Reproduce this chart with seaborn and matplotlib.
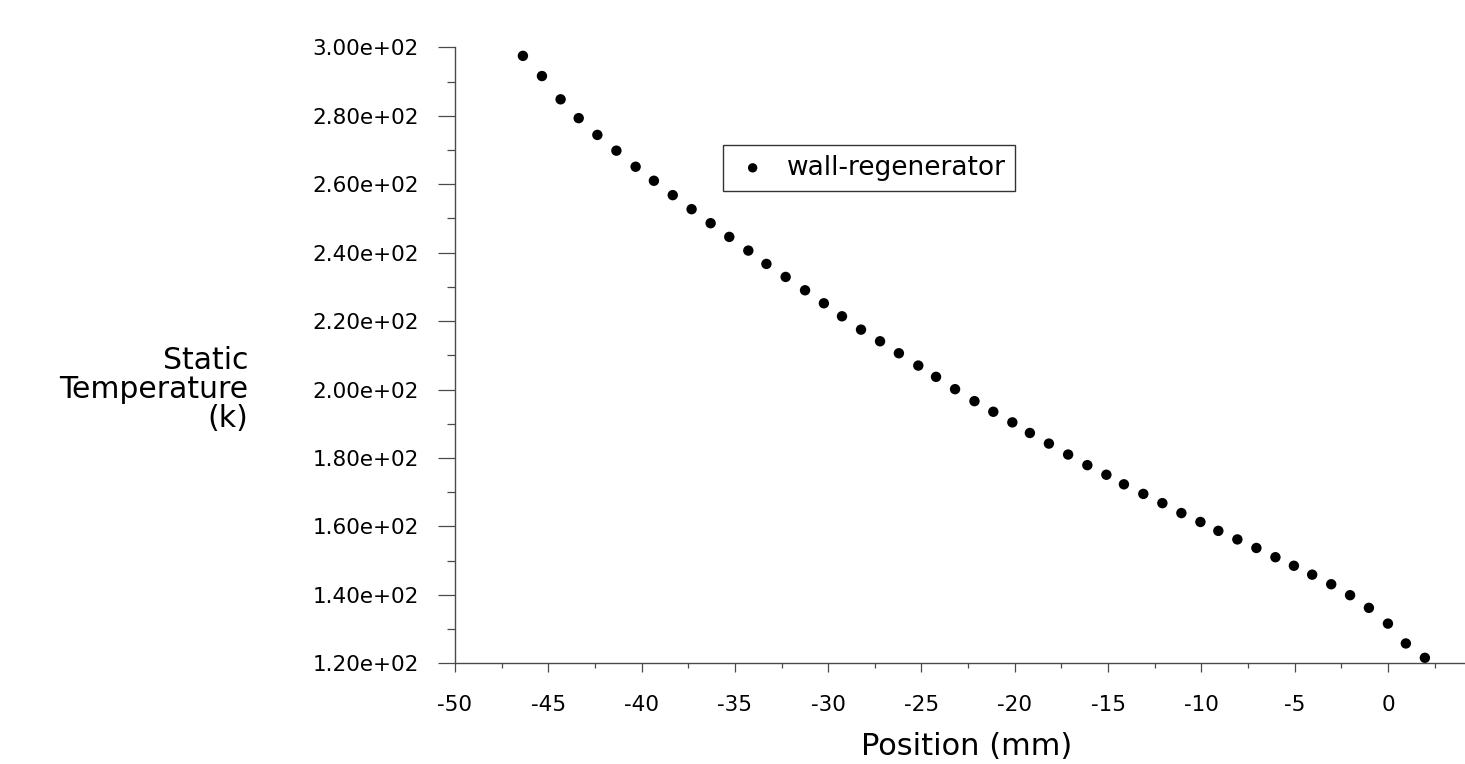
import matplotlib
matplotlib.use("Agg")
import matplotlib.pyplot as plt
import matplotlib.ticker as mticker
import seaborn as sns
import pandas as pd

# Data
position_mm = [-46.36, -45.34, -44.34, -43.37, -42.37, -41.35, -40.32, -39.34, -38.33, -37.32,
               -36.30, -35.30, -34.28, -33.31, -32.28, -31.24, -30.23, -29.26, -28.24, -27.22,
               -26.21, -25.17, -24.22, -23.20, -22.16, -21.15, -20.13, -19.19, -18.17, -17.14,
               -16.11, -15.09, -14.15, -13.11, -12.09, -11.07, -10.05, -9.09, -8.07, -7.05,
               -6.03, -5.04, -4.06, -3.04, -2.03, -1.02, 0.00, 0.96, 1.98]
static_temperature_k = [297.5, 291.6, 284.8, 279.3, 274.4, 269.8, 265.1, 261.0, 256.8, 252.7,
                        248.6, 244.6, 240.6, 236.7, 232.9, 229.0, 225.2, 221.4, 217.5, 214.1,
                        210.6, 207.0, 203.7, 200.1, 196.6, 193.5, 190.4, 187.3, 184.2, 181.0,
                        177.9, 175.1, 172.3, 169.5, 166.8, 163.9, 161.3, 158.7, 156.2, 153.7,
                        151.0, 148.5, 145.9, 143.1, 139.9, 136.2, 131.6, 125.8, 121.6]
series_name = "wall-regenerator"
x_label = "Position (mm)"
y_label = "Static\nTemperature\n(k)"

df = pd.DataFrame({"pos": position_mm, "temp": static_temperature_k})

sns.set_style("ticks")
plt.rcParams["font.family"] = ["DejaVu Sans"]
plt.rcParams["axes.unicode_minus"] = False
plt.rcParams["text.color"] = "black"
plt.rcParams["axes.labelcolor"] = "black"

fig = plt.figure(figsize=(14.65, 7.64), dpi=100)
ax = fig.add_axes([455 / 1465, 1 - 663.3 / 764, 1010 / 1465, 616 / 764])

sns.scatterplot(data=df, x="pos", y="temp", ax=ax, color="black", s=56,
                linewidth=0, edgecolor="none", label=series_name)

ax.set_xlim(-50, 4.13)
ax.set_ylim(120, 300)
ax.xaxis.set_major_locator(mticker.MultipleLocator(5))
ax.xaxis.set_minor_locator(mticker.MultipleLocator(2.5))
ax.yaxis.set_major_locator(mticker.MultipleLocator(20))
ax.yaxis.set_minor_locator(mticker.MultipleLocator(10))
ax.yaxis.set_major_formatter(mticker.FuncFormatter(lambda v, p: f"{v:.2e}"))
ax.xaxis.set_major_formatter(mticker.FuncFormatter(lambda v, p: f"{v:g}"))

spine_col = "#4a4a4a"
for s in ["top", "right"]:
    ax.spines[s].set_visible(False)
for s in ["left", "bottom"]:
    ax.spines[s].set_color(spine_col)
    ax.spines[s].set_linewidth(1.0)

ax.tick_params(axis="y", which="major", length=12.2, width=0.9, color=spine_col,
               labelsize=15.5, pad=14, labelcolor="black")
ax.tick_params(axis="y", which="minor", length=5.8, width=0.9, color=spine_col)
ax.tick_params(axis="x", which="major", length=6.5, width=0.9, color=spine_col,
               labelsize=15.5, pad=16, labelcolor="black")
ax.tick_params(axis="x", which="minor", length=3.6, width=0.9, color=spine_col)

ax.set_xlabel(x_label, fontsize=22, va="top")
ax.xaxis.set_label_coords(0.507, -0.112)
ax.set_ylabel(y_label, fontsize=21.5, rotation=0, ha="right", va="center",
              multialignment="right", linespacing=1.0)
ax.yaxis.set_label_coords(-0.205, 0.4445)

leg = ax.legend(loc="upper left", bbox_to_anchor=(722.7 / 1465, 1 - 145 / 764),
                bbox_transform=fig.transFigure, borderaxespad=0, fontsize=19,
                frameon=True, fancybox=False, shadow=False, framealpha=1,
                borderpad=0.37, handlelength=1.53, handletextpad=0.52, markerscale=0.9)
leg.get_frame().set_edgecolor("#333333")
leg.get_frame().set_linewidth(1.0)

fig.savefig("out.png", dpi=100)
